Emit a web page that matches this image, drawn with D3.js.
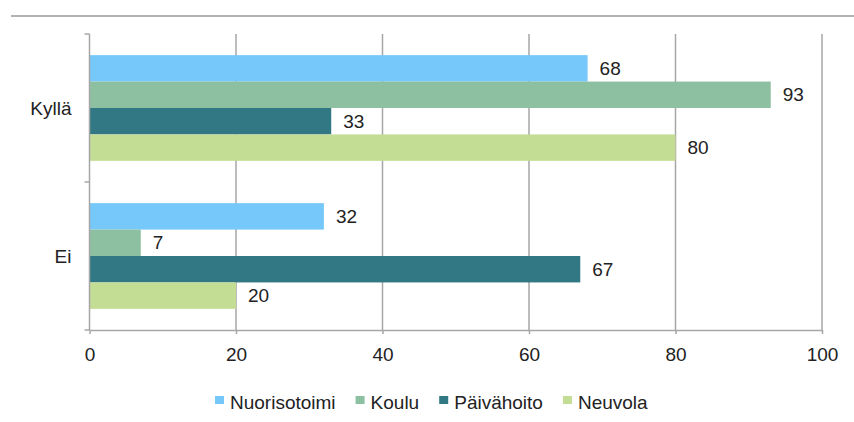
<!DOCTYPE html>
<meta charset="utf-8">
<style>

body {
  margin: 0;
  background: #fff;
}

svg {
  font-family: "Liberation Sans", Arial, sans-serif;
  display: block;
}

.grid line, .axis path, .axis line {
  stroke: #a6a6a6;
  stroke-width: 1.5px;
}

text {
  fill: #222;
}

</style>
<body>
<script src="https://cdn.jsdelivr.net/npm/d3@7"></script>
<script>

var categories = ["Kyllä", "Ei"],
    series = ["Nuorisotoimi", "Koulu", "Päivähoito", "Neuvola"],
    colors = ["#76c8fb", "#8dbfa1", "#327884", "#c4dd94"],
    kyllaValues = [68, 93, 33, 80],
    eiValues = [32, 7, 67, 20],
    xTicks = [0, 20, 40, 60, 80, 100];

var values = [kyllaValues, eiValues];

var width = 854,
    height = 422,
    plotLeft = 89.5,
    plotRight = 822,
    plotTop = 34,
    plotBottom = 330,
    fontSize = "19px";

var svg = d3.select("body").append("svg")
    .attr("width", width)
    .attr("height", height);

// top rule
svg.append("line")
    .attr("x1", 11).attr("x2", width)
    .attr("y1", 16).attr("y2", 16)
    .style("stroke", "#b3b3b3")
    .style("stroke-width", 2);

var x = d3.scaleLinear().domain([0, 100]).range([plotLeft, plotRight]);

var y = d3.scaleBand().domain(categories).range([plotTop, plotBottom]);

var y1 = d3.scaleBand().domain(series).range([0, y.bandwidth()]).paddingOuter(0.8);

// gridlines
svg.append("g")
    .attr("class", "grid")
  .selectAll("line")
    .data(xTicks.slice(1))
  .enter().append("line")
    .attr("x1", function(d) { return x(d); })
    .attr("x2", function(d) { return x(d); })
    .attr("y1", plotTop)
    .attr("y2", plotBottom);

// bars
var group = svg.append("g").selectAll("g")
    .data(categories)
  .enter().append("g")
    .attr("transform", function(d) { return "translate(0," + y(d) + ")"; });

group.selectAll("rect")
    .data(function(d, i) { return values[i].map(function(v, j) { return {key: series[j], value: v, color: colors[j]}; }); })
  .enter().append("rect")
    .attr("x", x(0))
    .attr("y", function(d) { return y1(d.key); })
    .attr("width", function(d) { return x(d.value) - x(0); })
    .attr("height", y1.bandwidth())
    .style("fill", function(d) { return d.color; });

group.selectAll("text")
    .data(function(d, i) { return values[i].map(function(v, j) { return {key: series[j], value: v}; }); })
  .enter().append("text")
    .attr("x", function(d) { return x(d.value) + 12; })
    .attr("y", function(d) { return y1(d.key) + y1.bandwidth() / 2; })
    .attr("dy", "0.35em")
    .style("font-size", fontSize)
    .text(function(d) { return d.value; });

// x axis
var xAxis = svg.append("g")
    .attr("class", "axis")
    .attr("transform", "translate(0," + plotBottom + ")")
    .call(d3.axisBottom(x).tickValues(xTicks).tickSize(4).tickSizeOuter(0).tickPadding(14));

xAxis.selectAll("text")
    .style("font-size", fontSize)
    .style("fill", "#222");

// y axis with ticks between categories
var yAxis = svg.append("g").attr("class", "axis");

yAxis.append("line")
    .attr("x1", plotLeft).attr("x2", plotLeft)
    .attr("y1", plotTop).attr("y2", plotBottom);

yAxis.selectAll(".tick")
    .data(categories.map(function(d) { return y(d); }).concat([plotBottom]))
  .enter().append("line")
    .attr("class", "tick")
    .attr("x1", plotLeft - 5).attr("x2", plotLeft)
    .attr("y1", function(d) { return d; })
    .attr("y2", function(d) { return d; });

yAxis.selectAll("text")
    .data(categories)
  .enter().append("text")
    .attr("x", plotLeft - 18)
    .attr("y", function(d) { return y(d) + y.bandwidth() / 2; })
    .attr("dy", "0.35em")
    .attr("text-anchor", "end")
    .style("font-size", fontSize)
    .text(function(d) { return d; });

// legend
var legend = svg.append("g")
    .attr("transform", "translate(215,402)");

var lx = 0;
series.forEach(function(s, i) {
  var item = legend.append("g").attr("transform", "translate(" + lx + ",0)");
  item.append("rect")
      .attr("x", 0).attr("y", -6)
      .attr("width", 9).attr("height", 8)
      .style("fill", colors[i]);
  var t = item.append("text")
      .attr("x", 15)
      .attr("dy", "0.35em")
      .style("font-size", fontSize)
      .text(s);
  lx += 15 + t.node().getComputedTextLength() + 20;
});

</script>
